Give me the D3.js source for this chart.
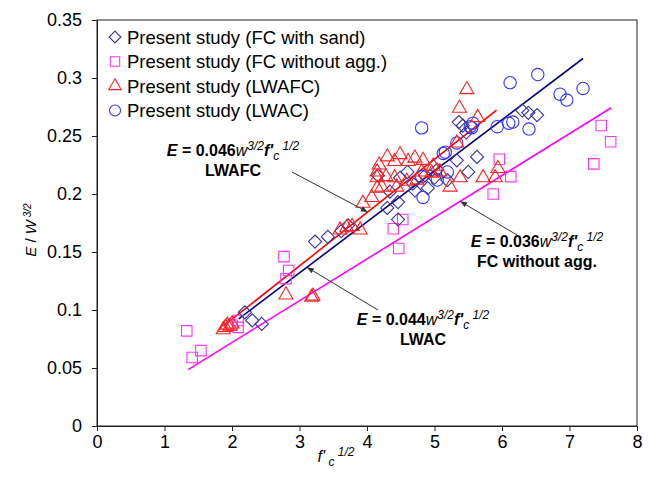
<!DOCTYPE html>
<html>
<head>
<meta charset="utf-8">
<script src="https://cdn.jsdelivr.net/npm/d3@7"></script>
<style>
body { margin:0; background:#fff; }
text { font-family: Arial, "Liberation Sans", sans-serif; }
</style>
</head>
<body>
<script>
// data: [sqrt(f'c), E / w^1.5]
var fcSand = [[2.19,0.098],[2.3,0.091],[2.44,0.088],[3.23,0.159],[3.42,0.163],[3.72,0.173],[3.62,0.168],
  [4.46,0.178],[4.46,0.193],[4.34,0.202],[4.71,0.203],[4.9,0.205],[5.19,0.212],[5.04,0.221],[5.33,0.229],
  [5.5,0.219],[5.63,0.232],[5.36,0.262],[5.47,0.253],[5.42,0.259],[4.16,0.216],[4.49,0.214],[4.68,0.209],
  [4.86,0.216],[6.3,0.272],[6.39,0.27],[6.52,0.268],[4.3,0.188],[4.6,0.219],[5.0,0.214]];
var fcNoAgg = [[1.33,0.082],[1.54,0.065],[1.41,0.059],[2.09,0.091],[2.09,0.085],[2.0,0.087],[2.77,0.146],
  [2.84,0.134],[2.8,0.127],[4.39,0.170],[4.53,0.178],[4.47,0.153],[5.96,0.230],[6.13,0.215],[5.87,0.200],
  [7.47,0.259],[7.61,0.245],[7.36,0.226]];
var lwafc = [[1.87,0.083],[1.9,0.085],[1.93,0.087],[1.97,0.086],[2.0,0.088],[2.8,0.113],[3.18,0.111],[3.2,0.112],
  [5.48,0.290],[5.37,0.274],[5.64,0.266],[5.33,0.244],[4.18,0.225],[4.49,0.234],[4.71,0.231],[4.61,0.228],
  [4.83,0.229],[4.41,0.228],[4.15,0.219],[4.28,0.215],[4.41,0.214],[4.15,0.214],[4.59,0.211],[4.44,0.206],
  [4.22,0.206],[4.74,0.212],[4.15,0.205],[4.07,0.197],[3.94,0.192],[4.96,0.218],[5.08,0.219],[5.23,0.206],
  [5.38,0.214],[5.72,0.214],[5.9,0.214],[5.94,0.222],[4.98,0.224],[4.81,0.219],[3.78,0.172],[3.6,0.169],
  [3.9,0.169],[3.7,0.171],[4.3,0.232]];
var lwac = [[4.81,0.257],[5.53,0.258],[5.33,0.244],[5.13,0.235],[5.93,0.258],[6.16,0.262],[4.83,0.197],
  [5.19,0.219],[5.04,0.212],[4.81,0.215],[5.57,0.261],[6.12,0.296],[6.53,0.303],[6.86,0.286],[6.96,0.281],
  [7.2,0.291],[6.1,0.261],[6.4,0.256],[5.55,0.257],[5.16,0.236]];

// fitted lines: coefficient and x range
var fitLWAFC = {k:0.046, x:[1.87,5.92]};
var fitLWAC  = {k:0.044, x:[2.1,7.2]};
var fitFC    = {k:0.036, x:[1.35,7.62]};

var xTicks = [0,1,2,3,4,5,6,7,8];
var yTicks = [0,0.05,0.1,0.15,0.2,0.25,0.3,0.35];
var legendLabels = ["Present study (FC with sand)","Present study (FC without agg.)","Present study (LWAFC)","Present study (LWAC)"];

var width = 649, height = 489;
var pLeft = 97, pTop = 20, pRight = 637, pBottom = 426;

var svg = d3.select("body").append("svg")
  .attr("width", width).attr("height", height)
  .style("background", "#fff");

var x = d3.scaleLinear().domain([0,8]).range([pLeft,pRight]);
var y = d3.scaleLinear().domain([0,0.35]).range([pBottom,pTop]);

svg.append("defs").append("marker")
  .attr("id","arr").attr("viewBox","0 0 10 10").attr("refX",10).attr("refY",5)
  .attr("markerWidth",7).attr("markerHeight",7).attr("orient","auto")
  .append("path").attr("d","M0,1 L10,5 L0,9 Z").attr("fill","#333");

// frame
svg.append("rect")
  .attr("x",pLeft).attr("y",pTop).attr("width",pRight-pLeft).attr("height",pBottom-pTop)
  .attr("fill","none").attr("stroke","#222").attr("stroke-width",1);

var xAxis = svg.append("g")
  .attr("transform","translate(0,"+pBottom+")")
  .call(d3.axisBottom(x).tickValues(xTicks).tickSize(5).tickPadding(4).tickFormat(d3.format("d")));
var yAxis = svg.append("g")
  .attr("transform","translate("+pLeft+",0)")
  .call(d3.axisLeft(y).tickValues(yTicks).tickSize(5).tickPadding(10)
    .tickFormat(function(d){ return d===0 ? "0" : String(+d.toFixed(2)); }));
[xAxis,yAxis].forEach(function(a){
  a.select(".domain").attr("stroke","#222");
  a.selectAll(".tick line").attr("stroke","#222");
  a.selectAll("text").attr("font-size",18).attr("fill","#000")
    .style("font-family","Arial, 'Liberation Sans', sans-serif");
});

// fit lines
function fitLine(f, color){
  svg.append("line")
    .attr("x1",x(f.x[0])).attr("y1",y(f.k*f.x[0]))
    .attr("x2",x(f.x[1])).attr("y2",y(f.k*f.x[1]))
    .attr("stroke",color).attr("stroke-width",1.6);
}
fitLine(fitFC,"#ff00ff");
fitLine(fitLWAFC,"#ff0000");
fitLine(fitLWAC,"#000080");

var symTypes = [d3.symbolDiamond2, d3.symbolSquare2, d3.symbolTriangle2, d3.symbolCircle];
var symSizes = [110, 140, 140, 120];
var colors = ["#333399","#ff33ff","#ff2020","#3333ff"];

function points(data, i){
  svg.append("g").selectAll("path").data(data).enter().append("path")
    .attr("d", d3.symbol().type(symTypes[i]).size(symSizes[i]))
    .attr("transform", function(d){ return "translate("+x(d[0])+","+y(d[1])+")"; })
    .attr("fill","none").attr("stroke",colors[i]).attr("stroke-width",1.1);
}
points(fcNoAgg,1);
points(lwac,3);
points(fcSand,0);
points(lwafc,2);

// legend
var lg = svg.append("g");
legendLabels.forEach(function(t,i){
  var ly = 37 + i*24.5;
  lg.append("path").attr("d", d3.symbol().type(symTypes[i]).size(symSizes[i]*0.8)())
    .attr("transform","translate(115,"+ly+")")
    .attr("fill","none").attr("stroke",colors[i]).attr("stroke-width",1.1);
  lg.append("text").attr("x",127).attr("y",ly+6.5).attr("font-size",18.5).text(t);
});

// equations
function equation(cx, cy, coef, name){
  var t = svg.append("text").attr("x",cx).attr("y",cy).attr("font-size",16)
    .attr("font-weight","bold").attr("text-anchor","middle");
  t.append("tspan").attr("font-style","italic").text("E");
  t.append("tspan").text(" = " + coef);
  t.append("tspan").attr("font-style","italic").attr("font-weight","normal").text("w");
  t.append("tspan").attr("font-style","italic").attr("font-weight","normal").attr("font-size",12).attr("dy",-6).text("3/2");
  t.append("tspan").attr("font-style","italic").attr("dy",6).text("f'");
  t.append("tspan").attr("font-style","italic").attr("font-weight","normal").attr("font-size",12).attr("dy",4).text("c");
  t.append("tspan").attr("font-style","italic").attr("font-weight","normal").attr("font-size",12).attr("dy",-10).text(" 1/2");
  svg.append("text").attr("x",cx).attr("y",cy+20).attr("font-size",16)
    .attr("font-weight","bold").attr("text-anchor","middle").text(name);
}
equation(233,156,"0.046","LWAFC");
equation(537,247,"0.036","FC without agg.");
equation(423,325,"0.044","LWAC");

function arrow(x1,y1,xd,k){
  svg.append("line").attr("x1",x1).attr("y1",y1)
    .attr("x2",x(xd)).attr("y2",y(k*xd))
    .attr("stroke","#333").attr("stroke-width",1).attr("marker-end","url(#arr)");
}
arrow(292,172,4.01,fitLWAFC.k);
arrow(517,235,5.38,fitFC.k);
arrow(378,310,3.11,fitLWAC.k);

// axis titles
var yl = svg.append("text").attr("transform","translate(36,230) rotate(-90)")
  .attr("text-anchor","middle").attr("font-size",15);
yl.append("tspan").attr("font-style","italic").text("E");
yl.append("tspan").text(" / ");
yl.append("tspan").attr("font-style","italic").text("W");
yl.append("tspan").attr("font-style","italic").attr("font-size",10).attr("dy",-5).text(" 3/2");

var xl = svg.append("text").attr("x",336).attr("y",462).attr("text-anchor","middle").attr("font-size",16);
xl.append("tspan").attr("font-style","italic").text("f'");
xl.append("tspan").attr("font-style","italic").attr("font-size",12).attr("dy",4).text(" c");
xl.append("tspan").attr("font-style","italic").attr("font-size",12).attr("dy",-10).text(" 1/2");
</script>
</body>
</html>
